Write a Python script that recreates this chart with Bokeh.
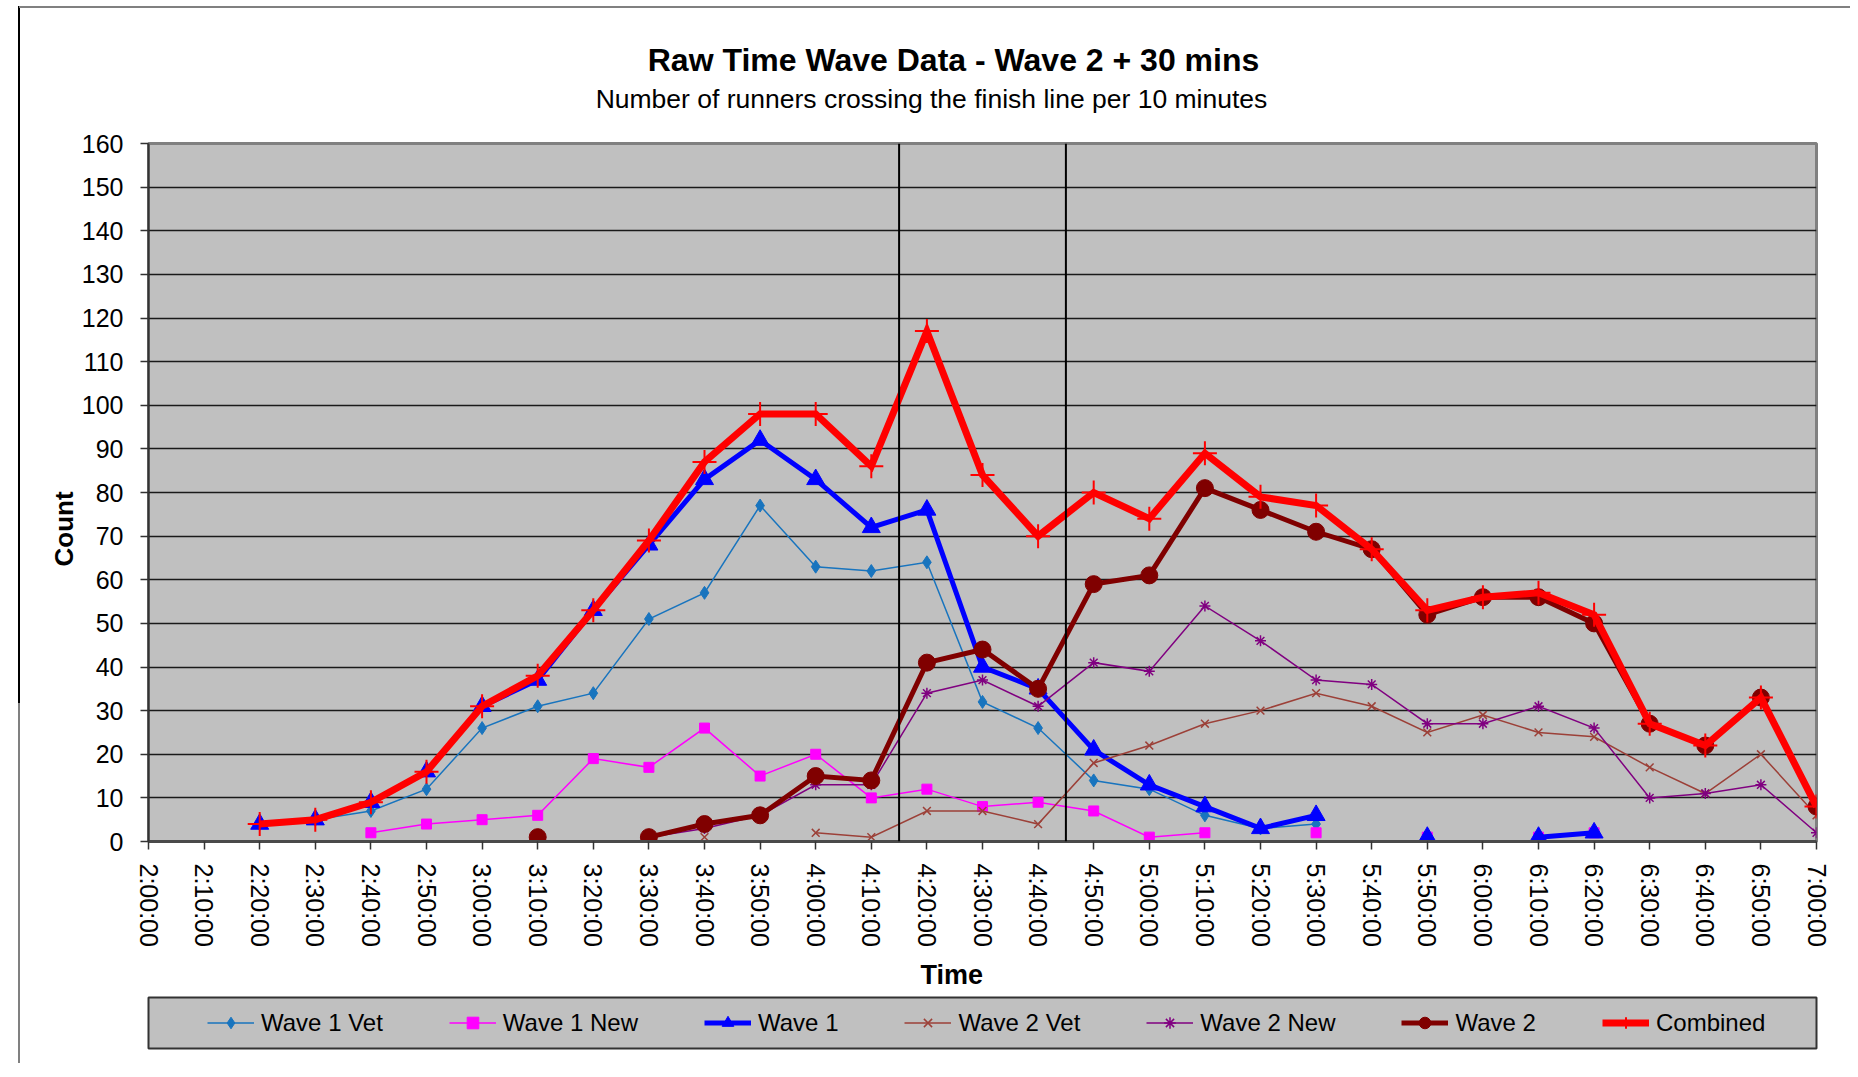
import math
import numpy as np
from bokeh.plotting import figure
from bokeh.layouts import column
from bokeh.models import (Range1d, FixedTicker, Span, Label, Legend, LegendItem, Title)
from bokeh.embed import file_html
from bokeh.resources import INLINE

N = None

time_labels = ["2:00:00", "2:10:00", "2:20:00", "2:30:00", "2:40:00", "2:50:00",
               "3:00:00", "3:10:00", "3:20:00", "3:30:00", "3:40:00", "3:50:00",
               "4:00:00", "4:10:00", "4:20:00", "4:30:00", "4:40:00", "4:50:00",
               "5:00:00", "5:10:00", "5:20:00", "5:30:00", "5:40:00", "5:50:00",
               "6:00:00", "6:10:00", "6:20:00", "6:30:00", "6:40:00", "6:50:00",
               "7:00:00"]

wave1_vet = [N, N, 4, 5, 7, 12, 26, 31, 34, 51, 57, 77, 63, 62, 64, 32, 26, 14, 12, 6,
             3, 4, N, N, N, N, N, N, N, N, N]
wave1_new = [N, N, N, N, 2, 4, 5, 6, 19, 17, 26, 15, 20, 10, 12, 8, 9, 7, 1, 2,
             N, 2, N, 1, N, 1, 2, N, N, N, N]
wave1 = [N, N, 4, 5, 9, 16, 31, 37, 53, 68, 83, 92, 83, 72, 76, 40, 35, 21, 13, 8,
         3, 6, N, 1, N, 1, 2, N, N, N, N]
wave2_vet = [N, N, N, N, N, N, N, N, N, N, 1, N, 2, 1, 7, 7, 4, 18, 22, 27,
             30, 34, 31, 25, 29, 25, 24, 17, 11, 20, 6]
wave2_new = [N, N, N, N, N, N, N, 1, N, 1, 3, 6, 13, 13, 34, 37, 31, 41, 39, 54,
             46, 37, 36, 27, 27, 31, 26, 10, 11, 13, 2]
wave2 = [N, N, N, N, N, N, N, 1, N, 1, 4, 6, 15, 14, 41, 44, 35, 59, 61, 81,
         76, 71, 67, 52, 56, 56, 50, 27, 22, 33, 8]
combined = [N, N, 4, 5, 9, 16, 31, 38, 53, 69, 87, 98, 98, 86, 117, 84, 70, 80, 74, 89,
            79, 77, 67, 53, 56, 57, 52, 27, 22, 33, 8]

series_names = ["Wave 1 Vet", "Wave 1 New", "Wave 1", "Wave 2 Vet", "Wave 2 New",
                "Wave 2", "Combined"]
series_values = [wave1_vet, wave1_new, wave1, wave2_vet, wave2_new, wave2, combined]

# wave boundary markers (4:15 and 4:45), in 10-minute slots from 2:00
wave_marks = [13.5, 16.5]
y_ticks = list(range(0, 161, 10))

FONT = "Liberation Sans"
W = 1850
FL, FR = 148, 34          # frame borders shared by all stacked figures

def arr(v):
    return np.array([np.nan if t is None else t for t in v], dtype=float)

xs = np.arange(len(time_labels), dtype=float)

styles = [
    ("#1874BE", 1.5, "diamond", 13, 1),
    ("#FF00FF", 1.5, "square", 10, 1),
    ("#0000FF", 5, "triangle", 18, 1),
    ("#9C4038", 1.5, "x", 11, 1.5),
    ("#800080", 1.5, "asterisk", 11, 1.5),
    ("#800000", 5, "circle", 17, 1),
    ("#FF0000", 7, "cross", 24, 2),
]

# ---------------- top strip: titles ----------------
TH = 123
top = figure(width=W, height=TH, output_backend="svg", toolbar_location=None,
             x_range=Range1d(FL, W - FR), y_range=Range1d(0, TH),
             x_axis_type=None, y_axis_type=None, title=None,
             min_border_left=FL, min_border_right=FR, min_border_top=0, min_border_bottom=0)
top.outline_line_color = None
top.background_fill_color = None
top.border_fill_color = None
top.add_layout(Label(text="Raw Time Wave Data - Wave 2 + 30 mins", x=953, y=TH - 59,
                     text_font=FONT, text_font_size="32px", text_font_style="bold",
                     text_align="center", text_baseline="middle", text_color="black"))
top.add_layout(Label(text="Number of runners crossing the finish line per 10 minutes",
                     x=931, y=TH - 98, text_font=FONT, text_font_size="26.5px",
                     text_align="center", text_baseline="middle", text_color="black"))

# ---------------- main chart ----------------
MH = 829
p = figure(width=W, height=MH, output_backend="svg", toolbar_location=None,
           x_range=Range1d(0, len(time_labels) - 1), y_range=Range1d(0, 160),
           min_border_left=FL, min_border_right=FR, min_border_top=20,
           min_border_bottom=MH - 20 - 698, title=None)

p.background_fill_color = "#C0C0C0"
p.border_fill_color = None
p.outline_line_color = "#808080"
p.outline_line_width = 3

p.xgrid.visible = False
p.ygrid.ticker = FixedTicker(ticks=y_ticks)
p.ygrid.grid_line_color = "#1a1a1a"
p.ygrid.grid_line_width = 1.5

p.yaxis.ticker = FixedTicker(ticks=y_ticks)
p.yaxis.major_label_text_font = FONT
p.yaxis.major_label_text_font_size = "25px"
p.yaxis.major_label_text_color = "black"
p.yaxis.major_tick_out = 8
p.yaxis.major_tick_in = 0
p.yaxis.minor_tick_out = 0
p.yaxis.major_label_standoff = 17
p.yaxis.axis_line_color = "#333333"
p.yaxis.axis_line_width = 2
p.yaxis.major_tick_line_color = "#333333"
p.yaxis.major_tick_line_width = 1.5

p.xaxis.ticker = FixedTicker(ticks=list(range(len(time_labels))))
p.xaxis.major_label_overrides = {i: t for i, t in enumerate(time_labels)}
p.xaxis.major_label_orientation = -math.pi / 2
p.xaxis.major_label_text_font = FONT
p.xaxis.major_label_text_font_size = "25px"
p.xaxis.major_label_text_color = "black"
p.xaxis.major_tick_out = 8
p.xaxis.major_tick_in = 0
p.xaxis.minor_tick_out = 0
p.xaxis.major_label_standoff = 14
p.xaxis.axis_line_color = "#4a4a4a"
p.xaxis.axis_line_width = 3
p.xaxis.major_tick_line_color = "#333333"
p.xaxis.major_tick_line_width = 1.5

p.add_layout(Title(text="Count", align="left", offset=275, standoff=0,
                   vertical_align="bottom", text_font=FONT, text_font_size="26px",
                   text_font_style="bold", text_color="black"), "left")

for m in wave_marks:
    p.add_layout(Span(location=m, dimension="height", line_color="black", line_width=2))

for vals, (color, lw, marker, size, mlw) in zip(series_values, styles):
    ys = arr(vals)
    p.line(xs, ys, line_color=color, line_width=lw, line_join="miter")
    p.scatter(xs, ys, marker=marker, size=size, fill_color=color,
              line_color=color, line_width=mlw)

# ---------------- bottom strip: axis title + legend box ----------------
BH = 111
bot = figure(width=W, height=BH, output_backend="svg", toolbar_location=None,
             x_range=p.x_range, y_range=Range1d(1000, 1001),
             x_axis_type=None, y_axis_type=None, title=None,
             min_border_left=FL, min_border_right=FR, min_border_top=45,
             min_border_bottom=BH - 45 - 51)
bot.background_fill_color = "#C0C0C0"
bot.border_fill_color = None
bot.outline_line_color = "#333333"
bot.outline_line_width = 2

bot.add_layout(Title(text="Time", align="left", offset=772, standoff=12,
                     vertical_align="top", text_font=FONT, text_font_size="27px",
                     text_font_style="bold", text_color="black"), "above")

items = []
for name, vals, (color, lw, marker, size, mlw) in zip(series_names, series_values, styles):
    ys = arr(vals)   # out of this strip's y-range: only the legend glyphs show
    lr = bot.line(xs, ys, line_color=color, line_width=lw)
    sr = bot.scatter(xs, ys, marker=marker, size=size, fill_color=color,
                     line_color=color, line_width=mlw)
    items.append(LegendItem(label=name, renderers=[lr, sr]))

legend = Legend(items=items, orientation="horizontal", location=(59, 11),
                padding=0, margin=0, spacing=66, glyph_width=47, glyph_height=29,
                label_standoff=7, label_height=24,
                label_text_font=FONT, label_text_font_size="24px",
                label_text_color="black",
                background_fill_alpha=0, border_line_alpha=0)
bot.add_layout(legend, "center")

layout = column(top, p, bot, spacing=0)
layout.styles = {
    "background-image": "linear-gradient(#808080,#808080), linear-gradient(#000,#000), linear-gradient(#808080,#808080)",
    "background-size": "100% 2px, 2px 697px, 2px 100%",
    "background-position": "19px 6px, 18px 6px, 18px 703px",
    "background-repeat": "no-repeat",
}

open("out.html", "w").write(file_html(layout, INLINE))
